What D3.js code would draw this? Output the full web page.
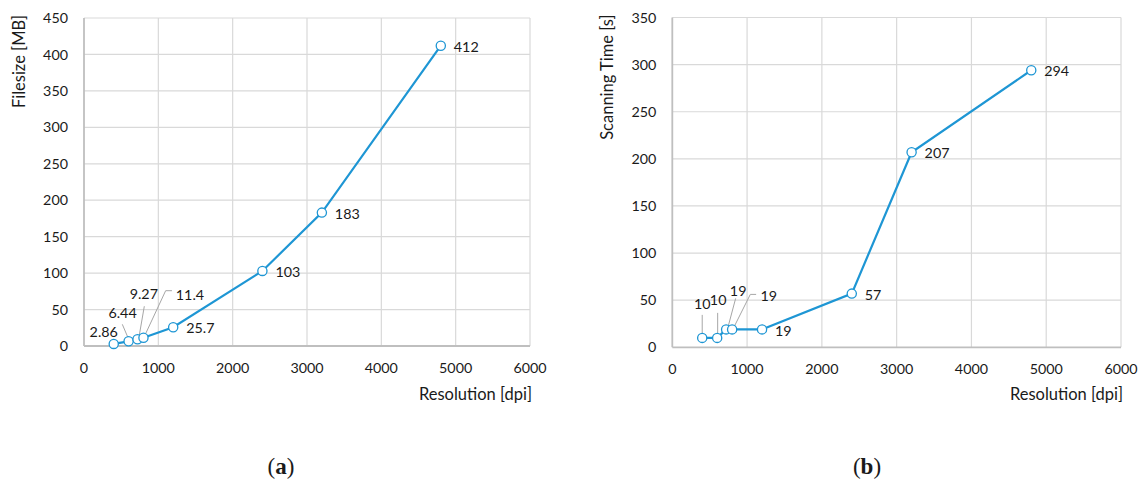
<!DOCTYPE html>
<html>
<head>
<meta charset="utf-8">
<script src="https://cdn.jsdelivr.net/npm/d3@7"></script>
<style>
  html, body { margin: 0; padding: 0; background: #fff; }
  svg { display: block; }
  text { font-family: Lato, "Open Sans", sans-serif; fill: #1a1a1a; }
  .caption { font-family: "Liberation Serif", "DejaVu Serif", serif; }
</style>
</head>
<body>
<svg id="chart" width="1141" height="481"></svg>
<script>
// Scan resolution (dpi) shared by both panels
const resolution = [400, 600, 720, 800, 1200, 2400, 3200, 4800];
// Panel (a): file size in MB
const fileSize = [2.86, 6.44, 9.27, 11.4, 25.7, 103, 183, 412];
// Panel (b): scanning time in seconds
const scanTime = [10, 10, 19, 19, 19, 57, 207, 294];

const xTicks = [0, 1000, 2000, 3000, 4000, 5000, 6000];
const fileSizeTicks = [0, 50, 100, 150, 200, 250, 300, 350, 400, 450];
const scanTimeTicks = [0, 50, 100, 150, 200, 250, 300, 350];

// Label placement (pixel offsets from each point) and leader-line polylines
const labelLayoutA = [
  { dx: -10, dy: -12, anchor: "middle" },
  { dx: -6, dy: -28, anchor: "middle", leader: [[-6.3, -17], [-0.6, -3.6]] },
  { dx: 6.3, dy: -45, anchor: "middle", leader: [[6.8, -33], [1.5, -2.5]] },
  { dx: 46.5, dy: -43, anchor: "middle", leader: [[28.5, -47], [22.2, -47], [2.5, -4.7]] },
  { dx: 13, dy: 1, anchor: "start" },
  { dx: 13, dy: 1, anchor: "start" },
  { dx: 13, dy: 1, anchor: "start" },
  { dx: 13, dy: 1, anchor: "start" }
];
const labelLayoutB = [
  { dx: 0, dy: -34, anchor: "middle", leader: [[0, -23], [0, -3]] },
  { dx: 1, dy: -38, anchor: "middle", leader: [[0.5, -25], [0.5, -3]] },
  { dx: 12, dy: -39, anchor: "middle", leader: [[9.5, -31], [1.5, -1]] },
  { dx: 36.6, dy: -34, anchor: "middle", leader: [[24, -35], [18.2, -35], [1.2, -1]] },
  { dx: 13, dy: 1, anchor: "start" },
  { dx: 13, dy: 1, anchor: "start" },
  { dx: 13, dy: 1, anchor: "start" },
  { dx: 13, dy: 1, anchor: "start" }
];

const lineColor = "#1e96d4";
const svg = d3.select("#chart");

function drawPanel(cfg) {
  const g = svg.append("g");
  const x = d3.scaleLinear().domain([0, 6000]).range([cfg.left, cfg.right]);
  const y = d3.scaleLinear().domain([0, cfg.yMax]).range([cfg.bottom, cfg.top]);

  // gridlines
  g.append("g").selectAll("line.v").data(xTicks.slice(1)).join("line")
    .attr("x1", d => x(d)).attr("x2", d => x(d))
    .attr("y1", cfg.top).attr("y2", cfg.bottom)
    .attr("stroke", "#d9d9d9").attr("stroke-width", 1.2);
  g.append("g").selectAll("line.h").data(cfg.yTicks.slice(1)).join("line")
    .attr("x1", cfg.left).attr("x2", cfg.right)
    .attr("y1", d => y(d)).attr("y2", d => y(d))
    .attr("stroke", "#d9d9d9").attr("stroke-width", 1.2);

  // axes lines
  g.append("line").attr("x1", cfg.left).attr("x2", cfg.left)
    .attr("y1", cfg.top).attr("y2", cfg.bottom)
    .attr("stroke", "#bfbfbf").attr("stroke-width", 1.8);
  g.append("line").attr("x1", cfg.left).attr("x2", cfg.right)
    .attr("y1", cfg.bottom).attr("y2", cfg.bottom)
    .attr("stroke", "#bfbfbf").attr("stroke-width", 1.8);

  // tick labels
  g.append("g").selectAll("text").data(cfg.yTicks).join("text")
    .attr("x", cfg.left - 16).attr("y", d => y(d)).attr("dy", "0.36em")
    .attr("text-anchor", "end").attr("font-size", 14.3)
    .text(d => d);
  g.append("g").selectAll("text").data(xTicks).join("text")
    .attr("x", d => x(d)).attr("y", cfg.bottom + 27)
    .attr("text-anchor", "middle").attr("font-size", 14.3)
    .text(d => d);

  // axis titles
  g.append("text")
    .attr("transform", `translate(${cfg.yTitleX},${cfg.top - 3}) rotate(-90)`)
    .attr("text-anchor", "end").attr("font-size", 16.5)
    .text(cfg.yTitle);
  g.append("text")
    .attr("x", cfg.right + 2).attr("y", 400)
    .attr("text-anchor", "end").attr("font-size", 16.5)
    .text("Resolution [dpi]");

  const pts = resolution.map((r, i) => ({ x: x(r), y: y(cfg.values[i]), v: cfg.values[i], lay: cfg.layout[i] }));

  // leader lines
  g.append("g").selectAll("polyline").data(pts.filter(p => p.lay.leader)).join("polyline")
    .attr("points", p => p.lay.leader.map(([dx, dy]) => `${p.x + dx},${p.y + dy}`).join(" "))
    .attr("fill", "none").attr("stroke", "#a6a6a6").attr("stroke-width", 1);

  // series line
  g.append("path").datum(pts)
    .attr("d", d3.line().x(p => p.x).y(p => p.y))
    .attr("fill", "none").attr("stroke", lineColor).attr("stroke-width", 2.2);

  // markers
  g.append("g").selectAll("circle").data(pts).join("circle")
    .attr("cx", p => p.x).attr("cy", p => p.y).attr("r", 4.6)
    .attr("fill", "#fff").attr("stroke", lineColor).attr("stroke-width", 1.3);

  // data labels
  g.append("g").selectAll("text").data(pts).join("text")
    .attr("x", p => p.x + p.lay.dx).attr("y", p => p.y + p.lay.dy).attr("dy", "0.36em")
    .attr("text-anchor", p => p.lay.anchor).attr("font-size", 14.3)
    .text(p => p.v);

  // caption
  const cap = svg.append("text").attr("class", "caption")
    .attr("x", cfg.captionX).attr("y", 474).attr("text-anchor", "middle").attr("font-size", 23);
  cap.append("tspan").text("(");
  cap.append("tspan").attr("font-weight", "bold").text(cfg.caption);
  cap.append("tspan").text(")");
}

drawPanel({
  left: 84, right: 530, top: 18, bottom: 346,
  yMax: 450, yTicks: fileSizeTicks, values: fileSize, layout: labelLayoutA,
  yTitle: "Filesize [MB]", yTitleX: 25, caption: "a", captionX: 281
});
drawPanel({
  left: 672.3, right: 1121, top: 17.5, bottom: 347.3,
  yMax: 350, yTicks: scanTimeTicks, values: scanTime, layout: labelLayoutB,
  yTitle: "Scanning Time [s]", yTitleX: 613, caption: "b", captionX: 867
});
</script>
</body>
</html>
